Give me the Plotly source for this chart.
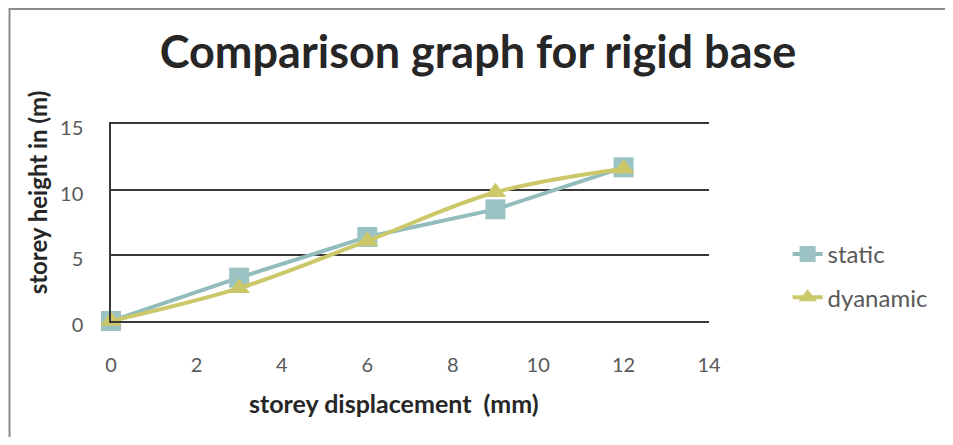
import plotly.graph_objects as go

displacement = [0, 3, 6, 9, 12]
static_height = [0, 3.3, 6.4, 8.5, 11.7]
dynamic_height = [0, 2.5, 6.1, 9.8, 11.6]
x_ticks = [0, 2, 4, 6, 8, 10, 12, 14]
y_ticks = [0, 5, 10, 15]

OFF = 8  # page body margin
W, H = 953 - 2 * OFF, 445 - 2 * OFF
# plot area in page pixels
L, R, T, B = 111, 712, 124, 321
pw, ph = R - L, B - T

def px(x):
    return (x - L) / pw

def py(y):
    return (B - y) / ph

FONT = "Lato"
TXT = "#595959"
DARK = "#262626"
GRID = "#383838"

fig = go.Figure()
fig.add_trace(go.Scatter(
    x=displacement, y=static_height, name="static", mode="lines+markers",
    line=dict(color="#93BCBC", width=4),
    marker=dict(symbol="square", size=20, color="#9BC3C3"),
    cliponaxis=False, legendgroup="a",
))
fig.add_trace(go.Scatter(
    x=displacement, y=dynamic_height, name="dyanamic", mode="lines+markers",
    line=dict(color="#CCC86A", width=4, shape="spline", smoothing=1),
    marker=dict(symbol="triangle-up", size=19, color="#CCC86A"),
    cliponaxis=False, legendgroup="b",
))

fig.update_layout(
    width=W, height=H,
    margin=dict(l=L - OFF, r=W - (R - OFF), t=T - OFF, b=H - (B - OFF), pad=0),
    paper_bgcolor="white", plot_bgcolor="white",
    font=dict(family=FONT, color=TXT, size=20),
    title=dict(text="<b>Comparison graph for rigid base</b>",
               x=(478 - OFF) / W, xanchor="center", y=1 - (52 - OFF) / H, yanchor="middle",
               yref="container", xref="container",
               font=dict(family=FONT, size=45, color=DARK)),
    xaxis=dict(range=[0, 14], tickvals=x_ticks, showgrid=False, zeroline=False,
               showline=True, mirror=True, linecolor=GRID, linewidth=1.5,
               ticks="outside", ticklen=25, tickcolor="rgba(0,0,0,0)",
               tickfont=dict(size=20, color=TXT), fixedrange=True),
    yaxis=dict(range=[0, 15], tickvals=y_ticks, showgrid=True, gridcolor=GRID,
               gridwidth=1.5, zeroline=False, showline=True, linecolor=GRID,
               linewidth=1.5, ticks="outside", ticklen=22, tickcolor="rgba(0,0,0,0)",
               ticklabelshift=4,
               tickfont=dict(size=20, color=TXT), fixedrange=True),
    legend=dict(x=px(791), y=py(232), xanchor="left", yanchor="top",
                traceorder="grouped", tracegroupgap=9,
                font=dict(size=24, color=TXT), bgcolor="rgba(0,0,0,0)"),
    showlegend=True,
)

fig.add_annotation(text="<b>storey height in (m)</b>", textangle=-90,
                   x=px(37), y=py(192), xref="paper", yref="paper",
                   xanchor="center", yanchor="middle",
                   showarrow=False, font=dict(size=24, color=DARK, family=FONT))
fig.add_annotation(text="<b>storey displacement  (mm)</b>",
                   x=px(395), y=py(403), xref="paper", yref="paper",
                   xanchor="center", yanchor="middle",
                   showarrow=False, font=dict(size=25, color=DARK, family=FONT))

# outer chart border (top and left edges visible)
fig.add_shape(type="path", xref="paper", yref="paper",
              path=f"M {px(9)},{py(460)} L {px(9)},{py(9)} L {px(970)},{py(9)}",
              line=dict(color="#8C8C8C", width=2))

fig.write_html("out.html")
